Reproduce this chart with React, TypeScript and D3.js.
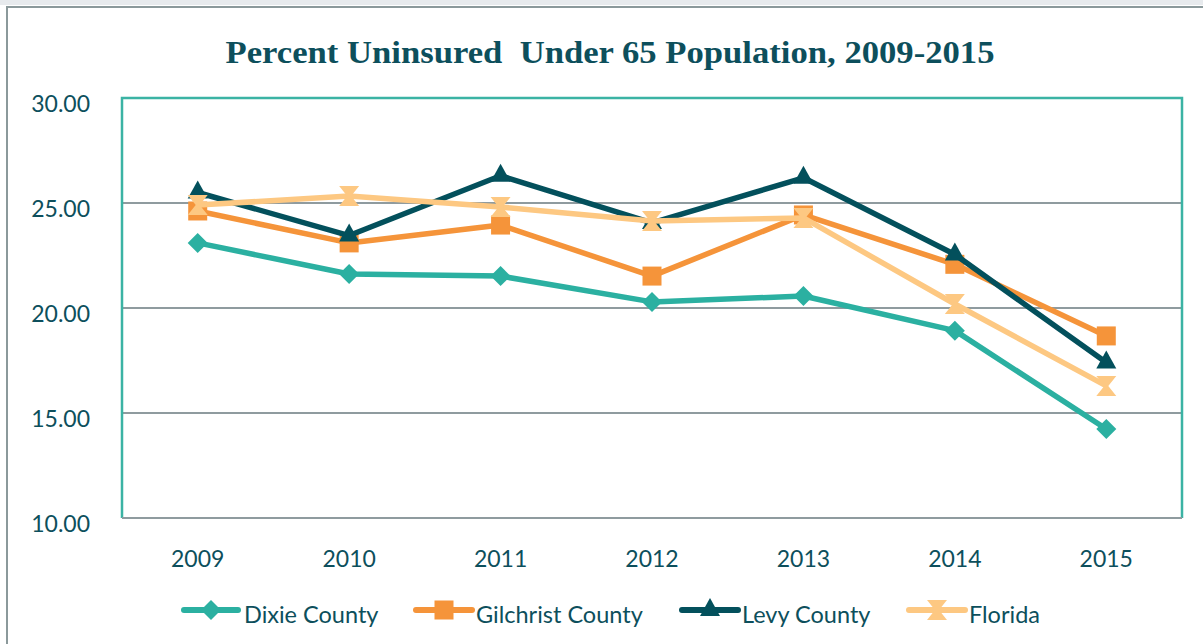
import React from "react";
import * as d3 from "d3";

const years = ["2009", "2010", "2011", "2012", "2013", "2014", "2015"];
const dixie = [23.1, 21.62, 21.52, 20.29, 20.57, 18.92, 14.24];
const gilchrist = [24.62, 23.1, 23.95, 21.52, 24.43, 22.08, 18.67];
const levy = [25.5, 23.45, 26.3, 24.05, 26.2, 22.55, 17.4];
const florida = [24.9, 25.33, 24.81, 24.14, 24.29, 20.19, 16.29];
const yTicks = [10, 15, 20, 25, 30];
const seriesNames = ["Dixie County", "Gilchrist County", "Levy County", "Florida"];

const W = 1203;
const H = 644;
const M = { left: 122, right: 1182, top: 98, bottom: 518 };
const TEXT = "#0d4f5c";

const series = [
  { name: seriesNames[0], values: dixie, color: "#2bb0a1", marker: "diamond" },
  { name: seriesNames[1], values: gilchrist, color: "#f5943a", marker: "square" },
  { name: seriesNames[2], values: levy, color: "#03505c", marker: "triangle" },
  { name: seriesNames[3], values: florida, color: "#fdc882", marker: "hourglass" },
];

function Marker({ type, x, y, color }: { type: string; x: number; y: number; color: string }) {
  if (type === "diamond") {
    const r = 10;
    return <path d={`M${x},${y - r}L${x + r},${y}L${x},${y + r}L${x - r},${y}Z`} fill={color} />;
  }
  if (type === "square") {
    const r = 9.5;
    return <rect x={x - r} y={y - r} width={2 * r} height={2 * r} fill={color} />;
  }
  if (type === "triangle") {
    return <path d={`M${x},${y - 12}L${x + 10},${y + 6}L${x - 10},${y + 6}Z`} fill={color} />;
  }
  const r = 10;
  return (
    <path
      d={`M${x - r},${y - r}L${x + r},${y - r}L${x + 2},${y}L${x + r},${y + r}L${x - r},${y + r}L${x - 2},${y}Z`}
      fill={color}
    />
  );
}

export default function App() {
  const x = d3.scaleBand().domain(years).range([M.left, M.right]);
  const y = d3.scaleLinear().domain([10, 30]).range([M.bottom, M.top]);
  const cx = (yr: string) => (x(yr) as number) + x.bandwidth() / 2;
  const line = d3
    .line<number>()
    .x((_, i) => cx(years[i]))
    .y((d) => y(d));

  const legendItems = [
    { l1: 184, l2: 238, tx: 244 },
    { l1: 416, l2: 472, tx: 476 },
    { l1: 682, l2: 738, tx: 742 },
    { l1: 909, l2: 965, tx: 969 },
  ];

  return (
    <svg
      width={W}
      height={H}
      style={{ position: "absolute", left: 0, top: 0, background: "#fff" }}
      fontFamily="Lato, 'Open Sans', sans-serif"
    >
      <rect x={0} y={0} width={W} height={5} fill="#e7eaed" />
      <rect x={7} y={7} width={W + 20} height={H + 20} fill="#fff" stroke="#8b999b" strokeWidth={2} />
      <text
        x={610}
        y={63}
        textAnchor="middle"
        fontFamily="'Liberation Serif', 'DejaVu Serif', serif"
        fontWeight="bold"
        fontSize={32}
        fill={TEXT}
        textLength={769}
        lengthAdjust="spacingAndGlyphs"
        style={{ whiteSpace: "pre" }}
      >
        {"Percent Uninsured  Under 65 Population, 2009-2015"}
      </text>

      {yTicks
        .filter((t) => t !== 10 && t !== 30)
        .map((t) => (
          <line key={t} x1={M.left} x2={M.right} y1={y(t)} y2={y(t)} stroke="#8f9b9f" strokeWidth={2} />
        ))}
      <path
        d={`M${M.left},${M.bottom}L${M.left},${M.top}L${M.right},${M.top}L${M.right},${M.bottom}`}
        fill="none"
        stroke="#3bb3a4"
        strokeWidth={2.5}
      />
      <line x1={M.left} x2={M.right} y1={M.bottom} y2={M.bottom} stroke="#8f9b9f" strokeWidth={2} />

      {yTicks.map((t) => (
        <text key={t} x={90} y={y(t) + 14} textAnchor="end" fontSize={23} fill={TEXT}>
          {d3.format(".2f")(t)}
        </text>
      ))}
      {years.map((yr) => (
        <text key={yr} x={cx(yr)} y={567} textAnchor="middle" fontSize={23} fill={TEXT}>
          {yr}
        </text>
      ))}

      {series.map((s) => (
        <g key={s.name}>
          <path d={line(s.values) || ""} fill="none" stroke={s.color} strokeWidth={5.5} strokeLinejoin="round" />
          {s.values.map((v, i) => (
            <Marker key={i} type={s.marker} x={cx(years[i])} y={y(v)} color={s.color} />
          ))}
        </g>
      ))}

      {series.map((s, i) => {
        const it = legendItems[i];
        const ly = 610;
        return (
          <g key={s.name}>
            <line
              x1={it.l1}
              x2={it.l2}
              y1={ly}
              y2={ly}
              stroke={s.color}
              strokeWidth={6}
              strokeLinecap="round"
            />
            <Marker type={s.marker} x={(it.l1 + it.l2) / 2} y={ly} color={s.color} />
            <text x={it.tx} y={623} fontSize={23.5} fill={TEXT}>
              {s.name}
            </text>
          </g>
        );
      })}
    </svg>
  );
}
